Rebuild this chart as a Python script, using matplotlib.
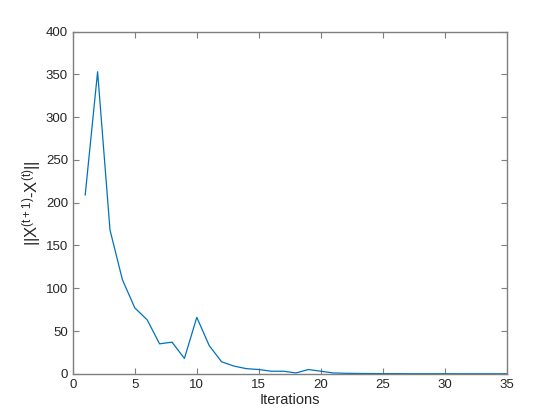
import matplotlib
matplotlib.use('Agg')
import matplotlib.pyplot as plt

# values
iterations = list(range(1, 36))
diff_norm = [209, 353, 168, 110, 77, 63, 35, 37, 18, 66,
             33, 14, 9, 6, 5, 3, 3, 1, 5, 3,
             1, 0.6, 0.4, 0.3, 0.2, 0.2, 0.1, 0.1, 0.1, 0.1,
             0.05, 0.05, 0.05, 0.05, 0.05]

x_ticks = [0, 5, 10, 15, 20, 25, 30, 35]
y_ticks = [0, 50, 100, 150, 200, 250, 300, 350, 400]

plt.rcParams['font.family'] = ['Liberation Sans', 'DejaVu Sans']
plt.rcParams['mathtext.fontset'] = 'custom'
plt.rcParams['mathtext.rm'] = 'Liberation Sans'
plt.rcParams['mathtext.it'] = 'Liberation Sans'

fig = plt.figure(figsize=(5.6, 4.2), dpi=100)
ax = fig.add_axes([0.13, 0.11, 0.775, 0.815])

ax.plot(iterations, diff_norm, color='#0072BD', linewidth=0.9)

ax.set_xlim(0, 35)
ax.set_ylim(0, 400)
ax.set_xticks(x_ticks)
ax.set_yticks(y_ticks)

# matlab style box with inward ticks on all sides
grey = '#262626'
for side in ax.spines.values():
    side.set_color('#7f7f7f')
    side.set_linewidth(1.0)
ax.tick_params(direction='in', top=True, right=True, length=4,
               color='#7f7f7f', labelcolor=grey, labelsize=9.5)

ax.set_xlabel('Iterations', fontsize=10.5, color=grey, labelpad=2)
ax.set_ylabel(r'$||\mathrm{X}^{\mathrm{(t+1)}}$-$\mathrm{X}^{\mathrm{(t)}}||$',
              fontsize=12, color=grey, labelpad=2)

fig.savefig('out.png', dpi=100)
